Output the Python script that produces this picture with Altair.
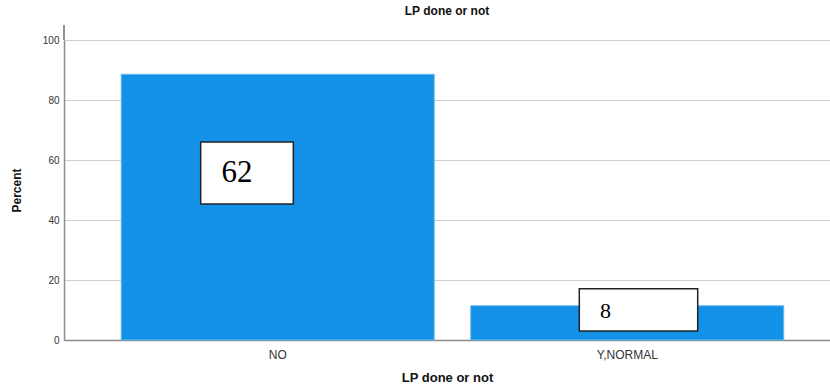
import altair as alt
import pandas as pd

# Frequencies of "LP done or not"
categories = ["NO", "Y,NORMAL"]
counts = [62, 8]
total = sum(counts)
percents = [c / total * 100 for c in counts]

bars_df = pd.DataFrame({"cat": categories, "count": counts, "percent": percents})

# Count call-out boxes (pixel geometry inside the plot area)
box_x = [136.7, 515.3]
box_x2 = [229.3, 633.7]
box_y = [102.0, 248.7]
box_y2 = [164.0, 291.0]
label_x = [157.5, 536.0]
label_y = [133.0, 271.0]
label_size = [31, 22]

boxes_df = pd.DataFrame({
    "count": counts, "bx": box_x, "bx2": box_x2, "by": box_y, "by2": box_y2,
    "tx": label_x, "ty": label_y, "fs": label_size,
})

PLOT_W, PLOT_H = 766, 300
AXIS_GREY = "#8c8c8c"

x_enc = alt.X(
    "cat:N",
    sort=categories,
    scale=alt.Scale(paddingInner=0.1044, paddingOuter=0.148, align=0.553),
    axis=alt.Axis(
        title="LP done or not", labelAngle=0, ticks=False, labelPadding=9,
        labelFontSize=12, labelColor="#333333", labelFont="Liberation Sans",
        titleFontSize=13, titleFontWeight="bold", titleColor="#111111",
        titleFont="Liberation Sans", titlePadding=11,
        domainColor=AXIS_GREY, domainWidth=1.5,
    ),
)

bars = alt.Chart(bars_df).mark_bar(
    color="#1391E6", stroke="#6BBAF0", strokeWidth=1
).encode(
    x=x_enc,
    y=alt.Y(
        "percent:Q",
        scale=alt.Scale(domain=[0, 100], nice=False),
        axis=alt.Axis(
            title="Percent", values=[0, 20, 40, 60, 80, 100], ticks=False,
            labelPadding=5, labelFontSize=10, labelColor="#333333",
            labelFont="Liberation Sans", titleFontSize=12, titleFontWeight="bold",
            titleColor="#111111", titleFont="Liberation Sans", titlePadding=19,
            grid=True, gridColor="#cfcfcf", gridWidth=1,
            domainColor=AXIS_GREY, domainWidth=1.5,
        ),
    ),
)

# y axis line runs slightly above the top gridline
axis_ext = alt.Chart(bars_df).mark_rule(color=AXIS_GREY, strokeWidth=1.5).encode(
    x=alt.value(0), y=alt.value(-15), y2=alt.value(0)
)

boxes = alt.Chart(boxes_df).mark_rect(
    fill="white", stroke="#222222", strokeWidth=1.5
).encode(
    x=alt.X("bx:Q", scale=None), x2="bx2:Q",
    y=alt.Y("by:Q", scale=None), y2="by2:Q",
)

labels = alt.Chart(boxes_df).mark_text(
    font="Liberation Serif", color="#000000", align="left", baseline="middle"
).encode(
    x=alt.X("tx:Q", scale=None),
    y=alt.Y("ty:Q", scale=None),
    text="count:Q",
    size=alt.Size("fs:Q", scale=None, legend=None),
)

chart = alt.layer(bars, axis_ext, boxes, labels).properties(
    width=PLOT_W,
    height=PLOT_H,
    title=alt.TitleParams(
        "LP done or not", fontSize=12, fontWeight="bold", color="#111111",
        font="Liberation Sans", anchor="middle", offset=6,
    ),
    autosize=alt.AutoSizeParams(type="none"),
    padding={"left": 64, "top": 40, "right": 0, "bottom": 49},
).configure_view(stroke=None).configure(background="white")

chart.save("out.html", embed_options={"renderer": "svg", "actions": False})
